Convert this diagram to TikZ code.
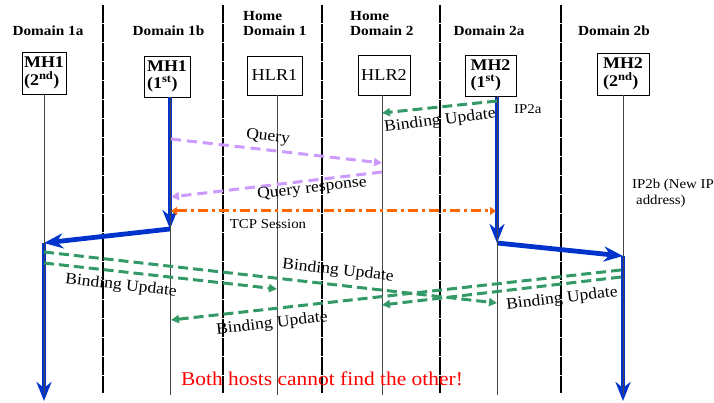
\documentclass[tikz,border=0pt]{standalone}
\usepackage{fontspec}
\setmainfont{Liberation Serif}[FakeStretch=1.1]
\usetikzlibrary{arrows.meta}
\definecolor{mipblue}{RGB}{0,51,204}
\definecolor{bugreen}{RGB}{51,153,102}
\definecolor{qpurple}{RGB}{204,153,255}
\definecolor{tcporange}{RGB}{255,102,0}
\definecolor{lifegray}{RGB}{70,70,70}
\begin{document}
\begin{tikzpicture}[x=1pt,y=-1pt,
  domsep/.style={line width=2.8pt, dash pattern=on 9pt off 0.5pt},
  life/.style={lifegray, line width=0.9pt},
  hdr/.style={font=\fontsize{13.9}{15}\selectfont\bfseries, align=left, inner sep=0pt},
  hostbox/.style={draw, line width=0.9pt, inner sep=0pt, align=left,
    font=\fontsize{16.3}{17.5}\selectfont\bfseries},
  hlrbox/.style={draw, line width=0.9pt, inner sep=0pt,
    font=\fontsize{16.6}{18}\selectfont},
  move/.style={mipblue, line width=4.8pt,
    -{Stealth[length=19pt,width=15pt,inset=6pt]}},
  bindupd/.style={bugreen, line width=3pt, dash pattern=on 10pt off 5pt,
    -{Triangle[length=8pt,width=8pt]}},
  query/.style={qpurple, line width=3pt, dash pattern=on 10pt off 6pt,
    -{Triangle[length=8pt,width=8pt]}},
  tcp/.style={tcporange, line width=3pt,
    dash pattern=on 10pt off 4pt on 3pt off 4pt,
    {Triangle[length=6pt,width=8pt]}-{Triangle[length=6pt,width=8pt]}},
  msg/.style={font=\fontsize{16}{18}\selectfont, inner sep=0pt},
  note/.style={font=\fontsize{13.5}{16}\selectfont, inner sep=0pt, align=left}
]
\useasboundingbox (0,0) rectangle (714,403);
\clip (0,0) rectangle (714,403);

% domain separators
\foreach \sx in {103,223,322,440,561}
  \draw[domsep] (\sx,5) -- (\sx,393);

% domain headers
\node[hdr] (h1a) at (48,31) {Domain 1a};
\node[hdr] (h1b) at (168.5,31) {Domain 1b};
\node[hdr, anchor=west] (hh1) at (243,24) {Home\\Domain 1};
\node[hdr, anchor=west] (hh2) at (350,24) {Home\\Domain 2};
\node[hdr] (h2a) at (489,31) {Domain 2a};
\node[hdr] (h2b) at (614,31) {Domain 2b};

% hosts and home location registers
\node[hostbox, minimum width=44pt, minimum height=42pt] (mh1b) at (44,73)
  {MH1\\(2\textsuperscript{nd})};
\node[hostbox, minimum width=46pt, minimum height=41pt] (mh1a) at (167,76.5)
  {MH1\\(1\textsuperscript{st})};
\node[hlrbox, minimum width=55pt, minimum height=39pt] (hlr1) at (274.5,75.5) {HLR1};
\node[hlrbox, minimum width=52pt, minimum height=40pt] (hlr2) at (384,75) {HLR2};
\node[hostbox, minimum width=51pt, minimum height=41pt] (mh2a) at (490.5,75.5)
  {MH2\\(1\textsuperscript{st})};
\node[hostbox, minimum width=52pt, minimum height=42pt] (mh2b) at (623,74)
  {MH2\\(2\textsuperscript{nd})};

% lifeline ends
\coordinate (e1) at (44,395);
\coordinate (e2) at (170,395);
\coordinate (e3) at (277,395);
\coordinate (e4) at (382,395);
\coordinate (e5) at (497,395);
\coordinate (e6) at (623,395);

% movement points
\coordinate (m1s) at (170,97);
\coordinate (m1t) at (170,229);
\coordinate (m1n) at (44,243);
\coordinate (m1e) at (44,401);
\coordinate (m2s) at (497,97);
\coordinate (m2t) at (497,243);
\coordinate (m2n) at (623,256);
\coordinate (m2e) at (623,401);

% host movements
\draw[move] (m1s) -- (m1t);
\draw[move] (m1t) -- (m1n);
\draw[move] (m1n) -- (m1e);
\draw[move] (m2s) -- (m2t);
\draw[move] (m2t) -- (m2n);
\draw[move] (m2n) -- (m2e);

% lifelines
\draw[life] (mh1b.south -| e1) -- (e1);
\draw[life] (mh1a.south -| e2) -- (e2);
\draw[life] (hlr1.south -| e3) -- (e3);
\draw[life] (hlr2.south -| e4) -- (e4);
\draw[life] (mh2a.south -| e5) -- (e5);
\draw[life] (mh2b.south -| e6) -- (e6);

% message end points
\coordinate (b0s) at (497,101);  \coordinate (b0t) at (382,113);
\coordinate (q1s) at (171,139);  \coordinate (q1t) at (382,163);
\coordinate (q2s) at (382,172);  \coordinate (q2t) at (171,197);
\coordinate (t1) at (171,211);   \coordinate (t2) at (496,211);
\coordinate (b1s) at (44,252);   \coordinate (b1t) at (497,303);
\coordinate (b2s) at (44,263);   \coordinate (b2t) at (277,289);
\coordinate (b3s) at (621,270);  \coordinate (b3t) at (171,320);
\coordinate (b4s) at (621,277);  \coordinate (b4t) at (382,305);

% signalling
\draw[bindupd] (b0s) -- (b0t);
\draw[query] (q1s) -- (q1t);
\draw[query] (q2s) -- (q2t);
\draw[tcp] (t1) -- (t2);
\draw[bindupd] (b1s) -- (b1t);
\draw[bindupd] (b2s) -- (b2t);
\draw[bindupd] (b3s) -- (b3t);
\draw[bindupd] (b4s) -- (b4t);

% message labels
\node[msg, rotate=7] (l0) at (440,121) {Binding Update};
\node[msg, rotate=-6.5] (lq1) at (268,137) {Query};
\node[msg, rotate=6.5] (lq2) at (312,189) {Query response};
\node[note] (ltcp) at (268,224) {TCP Session};
\node[msg, rotate=-6.5] (l1) at (338,271) {Binding Update};
\node[msg, rotate=-6.5] (l2) at (121,286) {Binding Update};
\node[msg, rotate=6.5] (l3) at (272,324) {Binding Update};
\node[msg, rotate=6.5] (l4) at (562,299) {Binding Update};

% addresses
\node[note, anchor=west] (ip2a) at (514,109) {IP2a};
\node[note, anchor=north west] (ip2b) at (632,179) {IP2b (New IP\\\hspace*{4pt}address)};

% conclusion
\node[font=\fontsize{19.5}{22}\selectfont, text={rgb,255:red,255;green,0;blue,0}, inner sep=0pt]
  (concl) at (322,379) {Both hosts cannot find the other!};
\end{tikzpicture}
\end{document}
